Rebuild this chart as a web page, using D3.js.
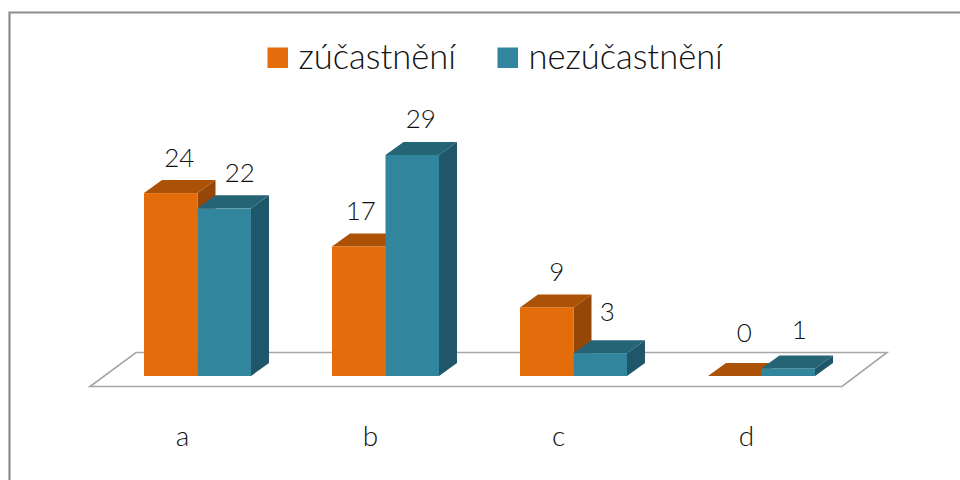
<!DOCTYPE html>
<html>
<head>
<meta charset="utf-8">
<script src="https://cdn.jsdelivr.net/npm/d3@7/dist/d3.min.js"></script>
<style>
  html, body { margin: 0; padding: 0; background: #fff; }
  svg { display: block; }
  text { font-family: Lato, "Open Sans", sans-serif; font-weight: 300; fill: #111; }
</style>
</head>
<body>
<svg id="chart" width="960" height="480"></svg>
<script>
const categories = ["a", "b", "c", "d"];
const seriesNames = ["zúčastnění", "nezúčastnění"];
const zucastneni = [24, 17, 9, 0];
const nezucastneni = [22, 29, 3, 1];
const seriesColors = ["#e46c0a", "#31859c"];
const topColors = ["#ab5207", "#256475"];
const sideColors = ["#944706", "#20566a"];

const svg = d3.select("#chart");
const width = 960, height = 480;

// Oblique projection offset for the box depth
const depthX = 18, depthY = -13;

const x = d3.scaleBand().domain(categories).range([103.5, 855.5]).paddingInner(0.4309).paddingOuter(0.2155);
const xInner = d3.scaleBand().domain(seriesNames).range([0, x.bandwidth()]);
const y = d3.scaleLinear().domain([0, 29]).range([376, 155]);

// Chart frame, open at the bottom and the right
svg.append("path")
  .attr("d", d3.line()([[9.5, height], [9.5, 12.5], [width, 12.5]]))
  .attr("fill", "none").attr("stroke", "#8c8c8c").attr("stroke-width", 2.2);

// Floor parallelogram
const floor = [[90, 386.5], [842, 386.5], [887, 352.5], [136, 352.5]];
svg.append("polygon")
  .attr("points", floor.join(" "))
  .attr("fill", "#fff").attr("stroke", "#a6a6a6").attr("stroke-width", 1.6);

// One record per box, drawn back to front within each category
const boxes = categories.flatMap((c, i) => [
  { c, s: 0, v: zucastneni[i] },
  { c, s: 1, v: nezucastneni[i] }
]);

const g = svg.append("g").selectAll("g").data(boxes).join("g");

const xl = d => x(d.c) + xInner(seriesNames[d.s]);
const xr = d => xl(d) + xInner.bandwidth();

const poly = pts => pts.map(p => p.join(",")).join(" ");

g.append("polygon") // right side face
  .attr("points", d => poly([
    [xr(d), y(d.v)], [xr(d) + depthX, y(d.v) + depthY],
    [xr(d) + depthX, y(0) + depthY], [xr(d), y(0)]
  ]))
  .attr("fill", d => sideColors[d.s]);

g.append("polygon") // top face
  .attr("points", d => poly([
    [xl(d), y(d.v)], [xr(d), y(d.v)],
    [xr(d) + depthX, y(d.v) + depthY], [xl(d) + depthX, y(d.v) + depthY]
  ]))
  .attr("fill", d => topColors[d.s]);

g.append("rect") // front face
  .attr("x", xl)
  .attr("y", d => y(d.v))
  .attr("width", xInner.bandwidth())
  .attr("height", d => y(0) - y(d.v))
  .attr("fill", d => seriesColors[d.s]);

// Hand-placed nudges for the value labels, in box order [dx, dy]
const labelNudge = [
  [8.5, -26], [15.5, -26],
  [2, -26], [8.5, -27],
  [10, -26], [7, -32],
  [9.5, -34], [11, -29]
];

svg.append("g").selectAll("text").data(boxes).join("text")
  .attr("x", (d, i) => xl(d) + xInner.bandwidth() / 2 + labelNudge[i][0])
  .attr("y", (d, i) => y(d.v) + labelNudge[i][1])
  .attr("text-anchor", "middle")
  .attr("font-size", 26)
  .text(d => d.v);

// Category labels
svg.append("g").selectAll("text").data(categories).join("text")
  .attr("x", d => x(d) + x.bandwidth() / 2 - 15)
  .attr("y", 446)
  .attr("text-anchor", "middle")
  .attr("font-size", 28)
  .text(d => d);

// Legend
const legendX = [267.5, 497.5];
const legend = svg.append("g").selectAll("g").data(seriesNames).join("g")
  .attr("transform", (d, i) => `translate(${legendX[i]},47.5)`);
legend.append("rect")
  .attr("width", 20.5).attr("height", 20.5)
  .attr("fill", (d, i) => seriesColors[i]);
legend.append("text")
  .attr("x", 31).attr("y", 21)
  .attr("font-size", 34.5)
  .text(d => d);
</script>
</body>
</html>
